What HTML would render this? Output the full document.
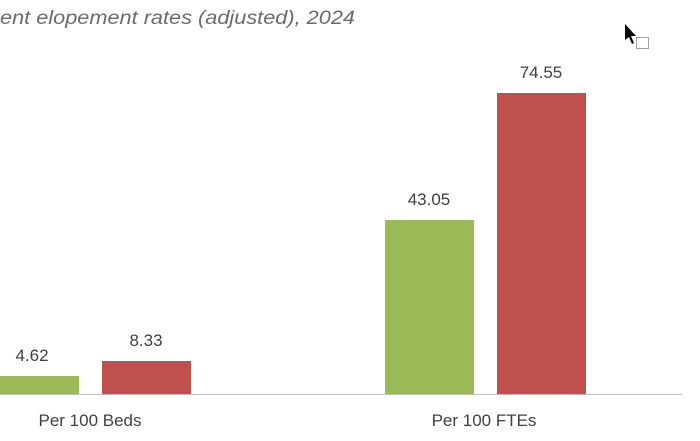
<!DOCTYPE html>
<html><head><meta charset="utf-8"><style>
html,body{margin:0;padding:0;background:#fff;width:700px;height:441px;overflow:hidden}
svg text{font-family:"Liberation Sans",sans-serif}
</style></head><body>
<svg width="700" height="441" viewBox="0 0 700 441" xmlns="http://www.w3.org/2000/svg">
<text x="0" y="24" font-size="19" font-style="italic" fill="#6b6b6b" textLength="355" lengthAdjust="spacingAndGlyphs">ent elopement rates (adjusted), 2024</text>
<path d="M625 24 L625 40 L629 37 L632 44 L634 43 L631 36 L636 36 Z" fill="#000"/>
<rect x="636.5" y="37.5" width="12" height="11" fill="none" stroke="#444" stroke-dasharray="1,1"/>
<rect x="0" y="376" width="79" height="18" fill="#9BBB59"/>
<rect x="102" y="361" width="89" height="33" fill="#C0504D"/>
<rect x="385" y="220" width="89" height="174" fill="#9BBB59"/>
<rect x="497" y="93" width="89" height="301" fill="#C0504D"/>
<line x1="0" y1="394.5" x2="682" y2="394.5" stroke="#bfbfbf" stroke-width="1"/>
<g font-size="17" fill="#404040" text-anchor="middle">
<text x="32" y="361">4.62</text>
<text x="146" y="346">8.33</text>
<text x="429" y="205">43.05</text>
<text x="541" y="78">74.55</text>
<text x="90" y="426">Per 100 Beds</text>
<text x="484" y="426">Per 100 FTEs</text>
</g>
</svg>
</body></html>
